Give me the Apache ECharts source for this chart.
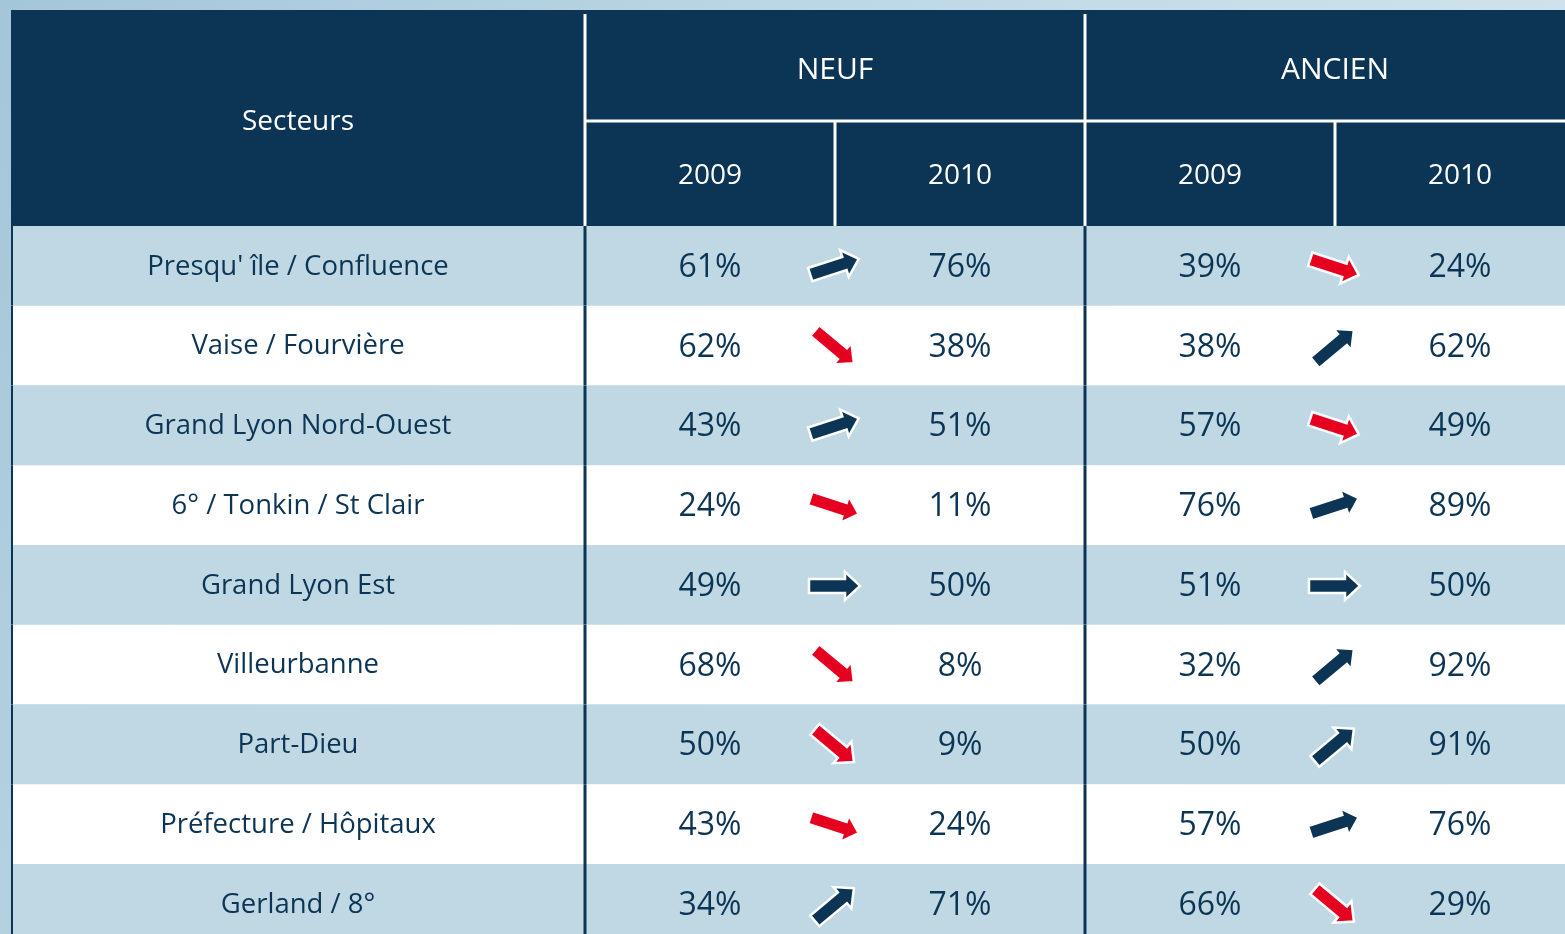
<!DOCTYPE html>
<html>
<head>
<meta charset="utf-8">
<script src="https://cdn.jsdelivr.net/npm/echarts@6/dist/echarts.min.js"></script>
<style>
  html, body { margin: 0; padding: 0; }
  #chart { width: 1565px; height: 934px; }
</style>
</head>
<body>
<div id="chart"></div>
<script>
// --- data ---
const SECTORS = [
  "Presqu' île / Confluence",
  'Vaise / Fourvière',
  'Grand Lyon Nord-Ouest',
  '6° / Tonkin / St Clair',
  'Grand Lyon Est',
  'Villeurbanne',
  'Part-Dieu',
  'Préfecture / Hôpitaux',
  'Gerland / 8°',
]
const NEUF_2009 = [61, 62, 43, 24, 49, 68, 50, 43, 34]
const NEUF_2010 = [76, 38, 51, 11, 50, 8, 9, 24, 71]
const ANCIEN_2009 = [39, 38, 57, 76, 51, 32, 50, 57, 66]
const ANCIEN_2010 = [24, 62, 49, 89, 50, 92, 91, 76, 29]
const GROUPS = ['NEUF', 'ANCIEN']
const YEARS = ['2009', '2010']
const SECTOR_HEAD = 'Secteurs'

// --- layout (x unit = one year column, y unit = one body row) ---
const COL_EDGES = [0, 2.296, 3.296, 4.296, 5.296, 6.296]
const HEAD_TOP = -2.709
const HEAD_MID = -1.317

// --- colours ---
const NAVY = '#0c3555'
const ROW_LIGHT = '#bfd8e3'
const RED = '#e6001f'
const WHITE = '#ffffff'
const FONT = '"Open Sans", sans-serif'

const groupValues = [[NEUF_2009, NEUF_2010], [ANCIEN_2009, ANCIEN_2010]]

function rect(api, x0, y0, x1, y1, fill) {
  const a = api.coord([x0, y0])
  const b = api.coord([x1, y1])
  return {
    type: 'rect',
    shape: { x: a[0], y: a[1], width: b[0] - a[0], height: b[1] - a[1] },
    style: { fill },
  }
}

function text(api, x, y, str, size, color, dy) {
  const p = api.coord([x, y])
  return {
    type: 'text',
    style: {
      text: str, x: p[0], y: p[1] + (dy || 0), fill: color,
      font: `${size}px ${FONT}`,
      align: 'center', verticalAlign: 'middle',
      textAlign: 'center', textVerticalAlign: 'middle',
    },
  }
}

function vline(api, x, y0, y1, color, w, dy0) {
  const a = api.coord([x, y0])
  const b = api.coord([x, y1])
  return {
    type: 'rect',
    shape: { x: a[0] - w / 2, y: a[1] + (dy0 || 0), width: w, height: b[1] - a[1] - (dy0 || 0) },
    style: { fill: color },
  }
}

function renderHeader(params, api) {
  const end = COL_EDGES[5]
  const children = [rect(api, 0, HEAD_TOP, end, 0, NAVY)]
  // white separators
  children.push(vline(api, COL_EDGES[1], HEAD_TOP, 0, WHITE, 3, 4))
  children.push(vline(api, COL_EDGES[3], HEAD_TOP, 0, WHITE, 3, 4))
  const m0 = api.coord([COL_EDGES[1], HEAD_MID])
  const m1 = api.coord([end, HEAD_MID])
  children.push({ type: 'rect', shape: { x: m0[0], y: m0[1] - 1.5, width: m1[0] - m0[0], height: 3 }, style: { fill: WHITE } })
  children.push(vline(api, COL_EDGES[2], HEAD_MID, 0, WHITE, 3))
  children.push(vline(api, COL_EDGES[4], HEAD_MID, 0, WHITE, 3))

  children.push(text(api, COL_EDGES[1] / 2, HEAD_TOP / 2, SECTOR_HEAD, 28, WHITE, 4))
  GROUPS.forEach((g, gi) => {
    const x0 = COL_EDGES[1 + gi * 2]
    const x1 = COL_EDGES[3 + gi * 2]
    children.push(text(api, (x0 + x1) / 2, (HEAD_TOP + HEAD_MID) / 2, g, 30, WHITE, 5))
    YEARS.forEach((y, yi) => {
      const c0 = COL_EDGES[1 + gi * 2 + yi]
      children.push(text(api, c0 + 0.5, HEAD_MID / 2, y, 28, WHITE, 3))
    })
  })
  return { type: 'group', children }
}

function renderRow(params, api) {
  const i = params.dataIndex
  const end = COL_EDGES[5]
  const children = [rect(api, 0, i, end, i + 1, i % 2 === 0 ? ROW_LIGHT : WHITE)]
  children.push(vline(api, 0, i, i + 1, NAVY, 4))
  children.push(vline(api, COL_EDGES[1], i, i + 1, NAVY, 3))
  children.push(vline(api, COL_EDGES[3], i, i + 1, NAVY, 3))
  children.push(text(api, COL_EDGES[1] / 2, i + 0.5, SECTORS[i], 27.5, NAVY, 1))
  groupValues.forEach((vals, gi) => {
    vals.forEach((arr, yi) => {
      const c0 = COL_EDGES[1 + gi * 2 + yi]
      children.push(text(api, c0 + 0.5, i + 0.5, arr[i] + '%', 32, NAVY, 2))
    })
  })
  return { type: 'group', children }
}

// arrow pointing right, centred on origin, in pixels
const ARROW = [[-25, -7], [11, -7], [11, -14], [26, 0], [11, 14], [11, 7], [-25, 7]]

function renderArrow(params, api) {
  const gi = api.value(0)
  const i = api.value(1)
  const from = groupValues[gi][0][i]
  const to = groupValues[gi][1][i]
  const d = to - from
  let deg = 0
  if (Math.abs(d) > 1) deg = Math.abs(d) < 20 ? 18 : 40
  const ang = (d > 0 ? -deg : deg) * Math.PI / 180
  const c = api.coord([COL_EDGES[2 + gi * 2], i + 0.5])
  const cos = Math.cos(ang), sin = Math.sin(ang)
  const points = ARROW.map(([x, y]) => [c[0] - 1 + x * cos - y * sin, c[1] + 1 + x * sin + y * cos])
  return {
    type: 'polygon',
    shape: { points },
    style: { fill: d < -1 ? RED : NAVY, stroke: WHITE, lineWidth: 2.5, lineJoin: 'miter' },
  }
}

const arrowData = []
GROUPS.forEach((g, gi) => SECTORS.forEach((s, i) => arrowData.push([gi, i])))

const chart = echarts.init(document.getElementById('chart'))
chart.setOption({
  animation: false,
  backgroundColor: new echarts.graphic.LinearGradient(0, 0, 1, 1, [
    { offset: 0, color: '#a4c6d9' },
    { offset: 0.5, color: '#c3dbe7' },
    { offset: 1, color: '#dce9f1' },
  ]),
  grid: { left: 11, right: 0, top: 10, bottom: 0 },
  xAxis: { type: 'value', min: 0, max: 6.216, show: false },
  yAxis: { type: 'value', min: HEAD_TOP, max: 8.878, inverse: true, show: false },
  series: [
    { type: 'custom', renderItem: renderHeader, data: [[0, 0]], clip: true, silent: true },
    { type: 'custom', renderItem: renderRow, data: SECTORS.map((s, i) => [0, i]), clip: true, silent: true },
    { type: 'custom', renderItem: renderArrow, data: arrowData, clip: true, silent: true },
  ],
})
</script>
</body>
</html>
